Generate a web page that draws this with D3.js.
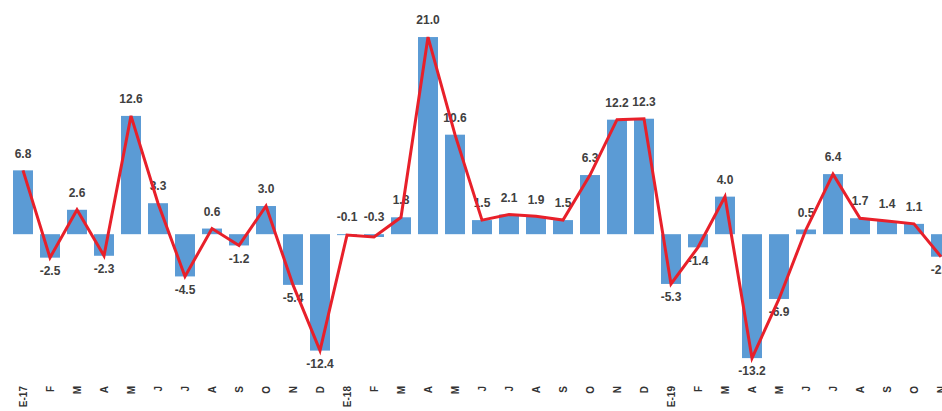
<!DOCTYPE html>
<html><head><meta charset="utf-8">
<script src="https://cdn.jsdelivr.net/npm/d3@7"></script>
<style>body{margin:0;background:#fff}svg{display:block}</style>
</head><body>
<svg id="c" width="942" height="411"></svg>
<script>
const months = ["E-17","F","M","A","M","J","J","A","S","O","N","D","E-18","F","M","A","M","J","J","A","S","O","N","D","E-19","F","M","A","M","J","J","A","S","O","N"];
const values = [6.8,-2.5,2.6,-2.3,12.6,3.3,-4.5,0.6,-1.2,3.0,-5.4,-12.4,-0.1,-0.3,1.8,21.0,10.6,1.5,2.1,1.9,1.5,6.3,12.2,12.3,-5.3,-1.4,4.0,-13.2,-6.9,0.5,6.4,1.7,1.4,1.1,-2.4];
const yDomain = [-15, 25];

const data = values.map((v,i)=>({i, v, m: months[i]}));
const svg = d3.select("#c");
const x = d3.scaleBand().domain(d3.range(values.length)).range([9.5, 954.5]).paddingInner(0.26).paddingOuter(0.13);
const y = d3.scaleLinear().domain(yDomain).range([375, -0.5]);
const cx = d => x(d.i) + x.bandwidth()/2;

svg.append("g").selectAll("rect").data(data).join("rect")
  .attr("x", d => x(d.i)).attr("width", x.bandwidth())
  .attr("y", d => y(Math.max(0,d.v)))
  .attr("height", d => Math.abs(y(d.v)-y(0)))
  .attr("fill", "#5b9bd5");

svg.append("g").selectAll("text").data(data).join("text")
  .attr("x", cx)
  .attr("y", d => d.v > -1 ? y(Math.max(d.v,0)) - 17 : y(d.v) + 13)
  .attr("dy", "0.35em")
  .attr("text-anchor", "middle")
  .attr("font-family", "Liberation Sans, Arial, sans-serif")
  .attr("font-weight", "bold").attr("font-size", 12)
  .attr("fill", "#404040")
  .text(d => d.v.toFixed(1));

svg.append("path").datum(data)
  .attr("d", d3.line().x(cx).y(d => y(d.v)))
  .attr("fill", "none").attr("stroke", "#e8202a").attr("stroke-width", 3).attr("stroke-linejoin", "miter");

const axis = d3.axisBottom(x).tickSize(0).tickFormat(i => months[i]);
const ga = svg.append("g").attr("transform", "translate(0,386)").call(axis);
ga.select(".domain").remove();
ga.selectAll("text")
  .attr("transform", "rotate(-90)")
  .attr("x", 0).attr("y", 0).attr("dy", "0.35em")
  .attr("text-anchor", "end")
  .attr("font-family", "Liberation Sans, Arial, sans-serif")
  .attr("font-weight", "bold").attr("font-size", 10)
  .attr("fill", "#333");
ga.selectAll("text").attr("transform", "rotate(-90)");
</script>
</body></html>
